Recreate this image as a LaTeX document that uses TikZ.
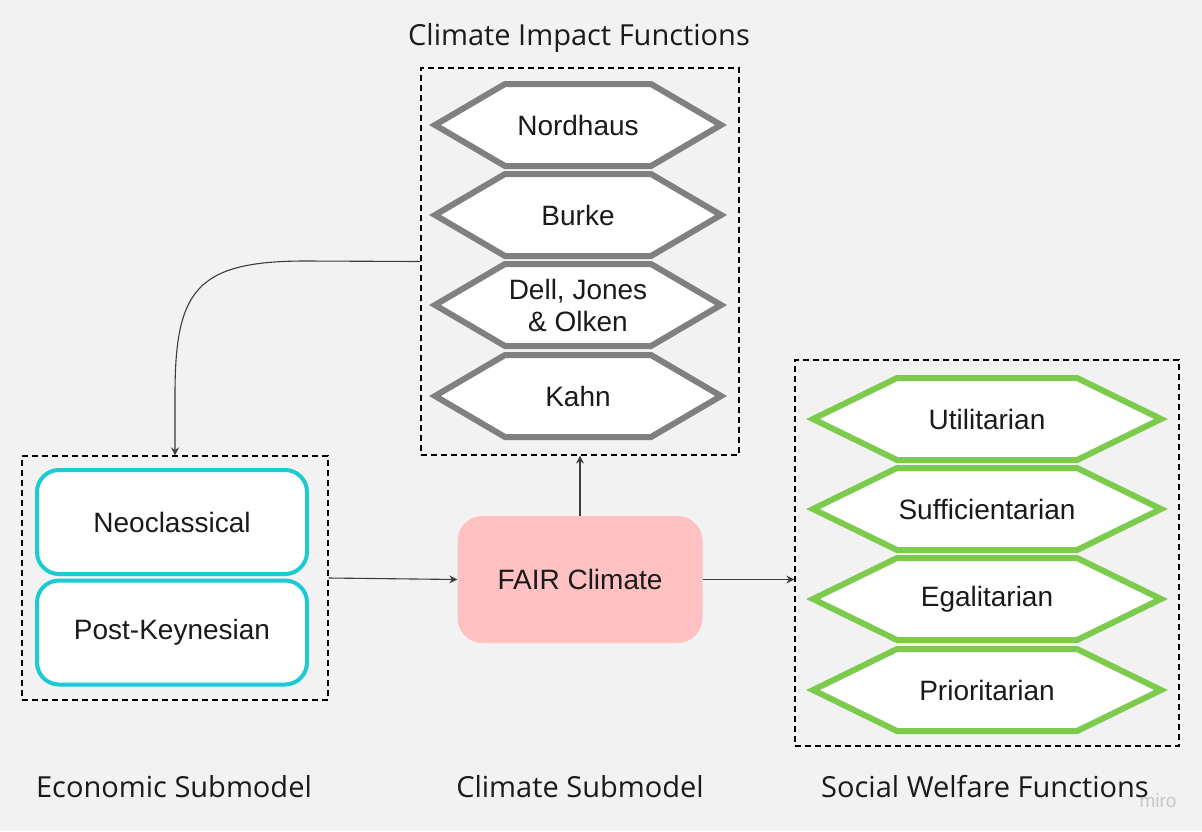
\documentclass[tikz,border=0pt]{standalone}
\usepackage{fontspec}
\setmainfont{Liberation Sans}
\newfontfamily\capfont{Open Sans}
\usetikzlibrary{arrows.meta,calc,positioning}
\definecolor{bgc}{HTML}{F2F2F2}
\definecolor{hexgray}{HTML}{808080}
\definecolor{swfgreen}{HTML}{7DCB4C}
\definecolor{econcyan}{HTML}{1DCAD3}
\definecolor{fairpink}{HTML}{FFC1C1}
\definecolor{arrgray}{HTML}{3C3C3C}
\definecolor{ink}{HTML}{1A1A1A}

\begin{document}
\begin{tikzpicture}[x=1pt,y=-1pt,
  lab/.style={font=\fontsize{28}{32}\selectfont,align=center,text=ink},
  captext/.style={font=\capfont\fontsize{29}{33}\selectfont,text=ink},
  dbox/.style={draw,dash pattern=on 6pt off 4pt,line width=1.2pt,inner sep=0pt},
  hexg/.style={draw=hexgray,fill=white,line width=6pt},
  hexw/.style={draw=swfgreen,fill=white,line width=6pt},
  ebox/.style={lab,draw=econcyan,fill=white,line width=4pt,rounded corners=22pt,
    minimum width=270pt,minimum height=104pt},
  arr/.style={draw=arrgray,line width=1.1pt,-{Stealth[length=8pt,width=8pt]}}]
\fill[bgc] (0,0) rectangle (1202,831);
\useasboundingbox (0,0) rectangle (1202,831);

% dashed groups
\node[dbox,minimum width=318pt,minimum height=387pt] (cif) at (580,261.5) {};
\node[dbox,minimum width=306pt,minimum height=244pt] (econ) at (175,578) {};
\node[dbox,minimum width=384pt,minimum height=386pt] (swf) at (987,553) {};

% impact functions
\foreach \y/\nm/\lab in {125/nord/Nordhaus,215/burke/Burke,305/dell/{Dell, Jones\\\& Olken},396/kahn/Kahn}{
  \draw[hexg] (435,\y) -- (505,\y-41) -- (651,\y-41) -- (721,\y) -- (651,\y+41) -- (505,\y+41) -- cycle;
  \node[lab] (\nm) at (578,\y) {\lab};}

% welfare functions
\foreach \y/\nm/\lab in {419/util/Utilitarian,509/suff/Sufficientarian,599/egal/Egalitarian,690/prio/Prioritarian}{
  \draw[hexw] (813,\y) -- (897,\y-41) -- (1077,\y-41) -- (1161,\y) -- (1077,\y+41) -- (897,\y+41) -- cycle;
  \node[lab] (\nm) at (987,\y) {\lab};}

% economic submodels
\node[ebox] (neo) at (172,522) {Neoclassical};
\node[ebox] (postk) at (172,632.5) {Post-Keynesian};

\node[lab,fill=fairpink,rounded corners=25pt,minimum width=245pt,minimum height=127pt] (fair) at (580,579.5) {FAIR Climate};

% captions
\node[captext] (capcif) at (579,38) {Climate Impact Functions};
\node[captext] (capecon) at (174,787) {Economic Submodel};
\node[captext] (capclim) at (580,787) {Climate Submodel};
\node[captext] (capswf) at (985,787) {Social Welfare Functions};
\node[font=\fontsize{19}{22}\selectfont,text=black!22] (miro) at (1158,801) {miro};

% links
\coordinate (bend1) at (306,261);
\coordinate (bend2) at (175,395);
\draw[arr] (econ.east) -- (fair.west);
\draw[arr] (fair.east) -- (fair.east -| swf.west);
\draw[arr] (fair.north) -- (cif.south);
\draw[arr] (cif.west) -- (bend1) .. controls +(-110,0) and +(0,-105) .. (bend2) -- (econ.north);
\end{tikzpicture}
\end{document}
